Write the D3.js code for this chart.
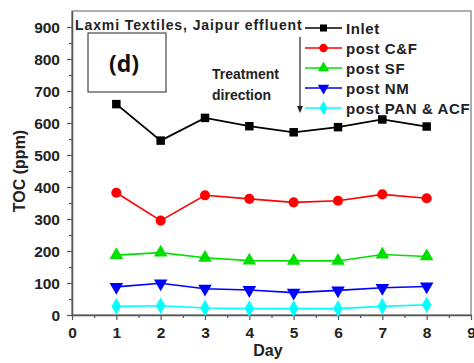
<!DOCTYPE html>
<html>
<head>
<meta charset="utf-8">
<script src="https://cdn.jsdelivr.net/npm/d3@7"></script>
<style>
  body { margin: 0; background: #fff; }
  svg { font-family: Arial, "Liberation Sans", sans-serif; font-weight: bold; }
</style>
</head>
<body>
<svg id="chart" width="474" height="363"></svg>
<script>
// data
var days = [1, 2, 3, 4, 5, 6, 7, 8];
var inlet = [659, 545, 616, 590, 571, 587, 611, 589];
var postCF = [382, 295, 374, 363, 352, 357, 377, 365];
var postSF = [187, 195, 179, 170, 169, 169, 189, 183];
var postNM = [88, 99, 82, 78, 70, 77, 85, 89];
var postPAN = [27, 29, 22, 20, 20, 20, 27, 32];

var seriesNames = ["Inlet", "post C&F", "post SF", "post NM", "post PAN & ACF"];
var seriesColors = ["#000000", "#ff0000", "#00e000", "#0000ff", "#00ffff"];
var seriesShapes = ["square", "circle", "triangle", "triangleDown", "diamond"];
var seriesValues = [inlet, postCF, postSF, postNM, postPAN];

var xTicks = [0, 1, 2, 3, 4, 5, 6, 7, 8, 9];
var yTicks = [0, 100, 200, 300, 400, 500, 600, 700, 800, 900];

var svg = d3.select("#chart");
var mLeft = 72, mRight = 471, mTop = 11, mBottom = 315;

var x = d3.scaleLinear().domain([0, 9]).range([mLeft, mRight]);
var y = d3.scaleLinear().domain([0, 950]).range([mBottom, mTop]);

// frame
svg.append("rect")
	.attr("x", mLeft).attr("y", mTop)
	.attr("width", mRight - mLeft).attr("height", mBottom - mTop)
	.attr("fill", "none").attr("stroke", "#777").attr("stroke-width", 1.2);

// x axis
var xAxis = svg.append("g")
	.attr("transform", "translate(0," + mBottom + ")")
	.call(d3.axisBottom(x).tickValues(xTicks).tickFormat(d3.format("d")).tickSize(5).tickSizeOuter(0));
xAxis.append("g")
	.call(d3.axisBottom(x).tickValues(d3.range(0.5, 9, 1)).tickFormat("").tickSize(3).tickSizeOuter(0))
	.select(".domain").remove();

// y axis
var yAxis = svg.append("g")
	.attr("transform", "translate(" + mLeft + ",0)")
	.call(d3.axisLeft(y).tickValues(yTicks).tickFormat(d3.format("d")).tickSize(5).tickSizeOuter(0));
yAxis.append("g")
	.call(d3.axisLeft(y).tickValues(d3.range(50, 950, 100)).tickFormat("").tickSize(3).tickSizeOuter(0))
	.select(".domain").remove();

svg.selectAll(".domain").attr("stroke", "#555").attr("stroke-width", 1.5);
svg.selectAll(".tick line").attr("stroke", "#555").attr("stroke-width", 1.2);
xAxis.selectAll(".tick text").attr("font-size", 15.5).attr("font-weight", "bold").attr("fill", "#222")
	.attr("font-family", "Arial, 'Liberation Sans', sans-serif").attr("y", 11).attr("dy", "0.8em");
yAxis.selectAll(".tick text").attr("font-size", 15.5).attr("font-weight", "bold").attr("fill", "#222")
	.attr("font-family", "Arial, 'Liberation Sans', sans-serif").attr("x", -12).attr("dy", "0.36em");

// axis titles
svg.append("text")
	.attr("x", 268).attr("y", 356)
	.attr("text-anchor", "middle").attr("font-size", 16).attr("fill", "#222")
	.text("Day");
svg.append("text")
	.attr("transform", "translate(25,171) rotate(-90)")
	.attr("text-anchor", "middle").attr("font-size", 16).attr("fill", "#222")
	.text("TOC (ppm)");

// symbol shapes
function symbolPath(shape, size) {
	if (shape == "square") return d3.symbol().type(d3.symbolSquare).size(size * 0.9)();
	if (shape == "circle") return d3.symbol().type(d3.symbolCircle).size(size)();
	if (shape == "triangle") return d3.symbol().type(d3.symbolTriangle).size(size)();
	if (shape == "triangleDown") return d3.symbol().type(d3.symbolTriangle).size(size)();
	return d3.symbol().type(d3.symbolDiamond).size(size)();
}

var line = d3.line()
	.x(function(d, i){ return x(days[i]); })
	.y(function(d){ return y(d); });

seriesValues.forEach(function(vals, s){
	svg.append("path")
		.datum(vals)
		.attr("d", line)
		.attr("fill", "none")
		.attr("stroke", seriesColors[s])
		.attr("stroke-width", s == 0 ? 1.8 : 1.6);
	svg.selectAll(".pt" + s)
		.data(vals)
		.enter()
		.append("path")
		.attr("d", symbolPath(seriesShapes[s], 80))
		.attr("transform", function(d, i){
			var rot = seriesShapes[s] == "triangleDown" ? " rotate(180)" : "";
			return "translate(" + x(days[i]) + "," + y(d) + ")" + rot;
		})
		.attr("fill", seriesColors[s]);
});

// title
svg.append("text")
	.attr("x", 75).attr("y", 30)
	.attr("font-size", 14).attr("fill", "#222")
	.attr("letter-spacing", 0.9)
	.text("Laxmi Textiles, Jaipur effluent");

// (d) box
svg.append("rect")
	.attr("x", 88).attr("y", 33).attr("width", 78).attr("height", 59)
	.attr("fill", "#fff").attr("stroke", "#222").attr("stroke-width", 1);
svg.append("text")
	.attr("x", 124).attr("y", 72)
	.attr("text-anchor", "middle").attr("font-size", 23).attr("fill", "#111")
	.attr("font-family", "'Open Sans', sans-serif").attr("font-weight", 700)
	.text("(d)");

// treatment direction
svg.append("text")
	.attr("x", 212).attr("y", 79)
	.attr("font-size", 14).attr("fill", "#222")
	.text("Treatment");
svg.append("text")
	.attr("x", 212).attr("y", 100)
	.attr("font-size", 14).attr("fill", "#222")
	.text("direction");
svg.append("line")
	.attr("x1", 300).attr("y1", 37).attr("x2", 300).attr("y2", 108)
	.attr("stroke", "#222").attr("stroke-width", 1.2);
svg.append("path")
	.attr("d", "M297,106 L303,106 L300,113 Z")
	.attr("fill", "#222");

// legend
var legend = svg.append("g");
seriesNames.forEach(function(name, s){
	var ly = 28 + s * 20;
	legend.append("line")
		.attr("x1", 305).attr("x2", 342).attr("y1", ly).attr("y2", ly)
		.attr("stroke", seriesColors[s]).attr("stroke-width", 1.6);
	legend.append("path")
		.attr("d", symbolPath(seriesShapes[s], 55))
		.attr("transform", "translate(323.5," + ly + ")" + (seriesShapes[s] == "triangleDown" ? " rotate(180)" : ""))
		.attr("fill", seriesColors[s]);
	legend.append("text")
		.attr("x", 346).attr("y", ly + 6)
		.attr("font-size", 15).attr("fill", "#222")
		.attr("letter-spacing", 0.6)
		.text(name);
});
</script>
</body>
</html>
